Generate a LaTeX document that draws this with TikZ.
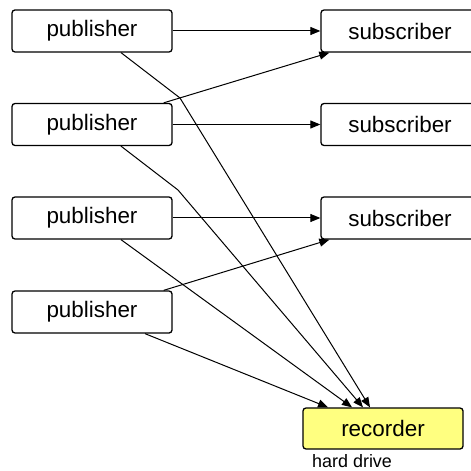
\documentclass[tikz,border=0pt]{standalone}
\usepackage{fontspec}
\setmainfont{Liberation Sans}
\usetikzlibrary{arrows.meta}
\definecolor{recfill}{HTML}{FFFF80}
\tikzset{
  box/.style={draw, line width=1.3bp, rounded corners=3bp, minimum width=160bp, minimum height=42bp, inner sep=0pt, font=\fontsize{22.5}{26}\selectfont},
  recbox/.style={box, fill=recfill},
  conn/.style={line width=1bp, -{Triangle[length=10bp,width=8bp]}},
  lbl/.style={font=\fontsize{18}{20}\selectfont, inner sep=0pt, anchor=west}
}
\begin{document}
\begin{tikzpicture}[x=1bp,y=-1bp]
\clip (0,0) rectangle (471,471);
\fill[white] (0,0) rectangle (471,471);
\node[box] (p1) at (92,31) {publisher};
\node[box] (p2) at (92,124.5) {publisher};
\node[box] (p3) at (92,218) {publisher};
\node[box] (p4) at (92,312) {publisher};
\node[box, minimum width=158bp] (s1) at (400,31) {subscriber};
\node[box, minimum width=158bp] (s2) at (400,124.5) {subscriber};
\node[box, minimum width=158bp] (s3) at (400,218) {subscriber};
\node[recbox, minimum height=41bp] (rec) at (383,428.5) {recorder};
\node[lbl] (hd) at (312,461.5) {hard drive};
\coordinate (k1) at (180,98);
\coordinate (k2) at (178,190);
\draw[conn] (p1.east) -- (s1.west);
\draw[conn] (p2.east) -- (s2.west);
\draw[conn] (p3.east) -- (s3.west);
\draw[conn] ([xshift=-9bp]p2.north east) -- ([xshift=9bp]s1.south west);
\draw[conn] ([xshift=-9bp]p4.north east) -- ([xshift=9bp]s3.south west);
\draw[conn] ([xshift=29bp]p1.south) -- (k1) -- ([xshift=-13bp]rec.north);
\draw[conn] ([xshift=29bp]p2.south) -- (k2) -- ([xshift=-20bp]rec.north);
\draw[conn] ([xshift=29bp]p3.south) -- ([xshift=-31bp]rec.north);
\draw[conn] ([xshift=53bp]p4.south) -- ([xshift=-55bp]rec.north);
\end{tikzpicture}
\end{document}
